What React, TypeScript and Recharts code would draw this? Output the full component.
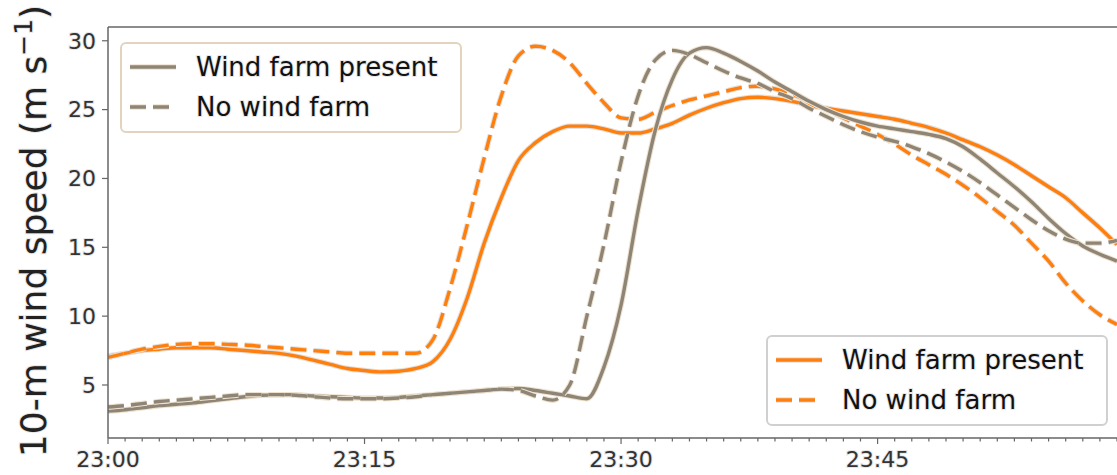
import React from 'react';
import { LineChart, Line, XAxis, YAxis, ReferenceLine } from 'recharts';

// minutes after 23:00
const minutes = [
  0, 1, 2, 3, 4, 5, 6, 7, 8, 9, 10, 11, 12, 13, 14, 15, 16, 17, 18, 19,
  20, 21, 22, 23, 24, 25, 26, 27, 28, 29, 30, 31, 32, 33, 34, 35, 36, 37, 38, 39,
  40, 41, 42, 43, 44, 45, 46, 47, 48, 49, 50, 51, 52, 53, 54, 55, 56, 57, 58, 59,
];

const orangePresent = [
  7.1, 7.3, 7.5, 7.6, 7.7, 7.7, 7.7, 7.6, 7.5, 7.4, 7.3, 7.1, 6.8, 6.5, 6.2, 6.05, 5.95, 6.0, 6.2, 6.7,
  8.3, 11.3, 15.3, 18.6, 21.3, 22.6, 23.4, 23.8, 23.8, 23.6, 23.3, 23.3, 23.6, 24.0, 24.6, 25.1, 25.5, 25.8, 25.9, 25.8,
  25.6, 25.3, 25.1, 24.9, 24.7, 24.5, 24.3, 24.0, 23.7, 23.3, 22.8, 22.3, 21.7, 21.0, 20.2, 19.4, 18.6, 17.5, 16.4, 15.2,
];

const orangeNoFarm = [
  7.0, 7.3, 7.6, 7.8, 7.95, 8.0, 8.0, 7.95, 7.9, 7.8, 7.7, 7.6, 7.5, 7.4, 7.3, 7.3, 7.3, 7.3, 7.3, 8.3,
  12.0, 16.6, 21.5, 26.0, 28.9, 29.6, 29.3, 28.4, 26.9, 25.5, 24.4, 24.3, 24.8, 25.3, 25.7, 26.0, 26.3, 26.6, 26.7, 26.5,
  26.1, 25.6, 25.0, 24.4, 23.8, 23.2, 22.5, 21.7, 21.0, 20.3, 19.5, 18.6, 17.6, 16.6, 15.3, 14.0, 12.4, 11.1, 10.1, 9.4,
];

const grayPresent = [
  3.1, 3.2, 3.35, 3.5, 3.6, 3.7, 3.85, 4.0, 4.15, 4.25, 4.3, 4.3, 4.2, 4.15, 4.1, 4.05, 4.05, 4.1, 4.2, 4.3,
  4.4, 4.5, 4.6, 4.7, 4.75, 4.6, 4.4, 4.2, 4.0, 6.3, 10.8, 17.7, 23.5, 27.2, 29.1, 29.5, 29.1, 28.5, 27.8, 27.0,
  26.3, 25.6, 25.0, 24.5, 24.1, 23.8, 23.6, 23.4, 23.2, 22.9, 22.3, 21.4, 20.4, 19.4, 18.3, 17.1, 16.0, 15.1, 14.5, 14.0,
];

const grayNoFarm = [
  3.4, 3.5, 3.65, 3.8, 3.9, 4.0, 4.1, 4.2, 4.3, 4.3, 4.3, 4.25, 4.15, 4.05, 4.0, 4.0, 4.0, 4.05, 4.15, 4.3,
  4.4, 4.5, 4.6, 4.7, 4.6, 4.2, 3.9, 5.0, 10.0, 15.2, 21.2, 26.0, 28.6, 29.3, 29.0, 28.4, 27.8, 27.3, 26.9, 26.3,
  25.8, 25.1, 24.5, 23.9, 23.4, 23.0, 22.7, 22.3, 21.8, 21.2, 20.5, 19.7, 18.8, 17.9, 17.0, 16.2, 15.6, 15.3, 15.3, 15.5,
];

const majorMinutes = [0, 15, 30, 45];
const timeLabels = ['23:00', '23:15', '23:30', '23:45'];
const speedTicks = [5, 10, 15, 20, 25, 30];
const legendLabels = ['Wind farm present', 'No wind farm'];

const ORANGE = '#ff7f0e';
const GRAY = '#8e8576';
const ORANGE_HALO = '#e4e0dc';
const GRAY_HALO = '#eee2cf';
const SPINE = '#666';
const FONT = '"DejaVu Sans", sans-serif';
const DASH = '16 7';

const data = minutes.map((t, i) => ({
  t,
  orangePresent: orangePresent[i],
  orangeNoFarm: orangeNoFarm[i],
  grayPresent: grayPresent[i],
  grayNoFarm: grayNoFarm[i],
}));

const textHalo = { stroke: '#e6e6e6', strokeWidth: 2, paintOrder: 'stroke' as const };

const TimeTick = (props: any) => {
  const { x, y, payload } = props;
  const idx = majorMinutes.indexOf(payload.value);
  const major = idx >= 0;
  return (
    <g>
      <line x1={x} x2={x} y1={y} y2={y + (major ? 6 : 3.5)} stroke={SPINE} strokeWidth={1.2} />
      {major && (
        <text x={x} y={y + 29} textAnchor="middle" fontSize={22} fontFamily={FONT} fill="#333" {...textHalo}>
          {timeLabels[idx]}
        </text>
      )}
    </g>
  );
};

const AxisTitle = () => (
  <text
    transform="translate(46,231) rotate(-90)"
    textAnchor="middle"
    fontSize={36}
    fontFamily={FONT}
    fill="#222"
    {...textHalo}
  >
    10-m wind speed (m s
    <tspan dy={-14} fontSize={25}>−1</tspan>
    <tspan dy={14}>)</tspan>
  </text>
);

const LegendBox = ({ x, y, color, halo, border }: { x: number; y: number; color: string; halo: string; border: string }) => (
  <g>
    <rect x={x} y={y} width={340} height={89} rx={5} fill="rgba(255,255,255,0.85)" stroke={border} strokeWidth={2} />
    {legendLabels.map((label, i) => (
      <g key={label}>
        <line
          x1={x + 9}
          x2={x + 55}
          y1={y + 24 + i * 40}
          y2={y + 24 + i * 40}
          stroke={halo}
          strokeWidth={5.5}
          strokeDasharray={i === 1 ? DASH : undefined}
        />
        <line
          x1={x + 9}
          x2={x + 55}
          y1={y + 24 + i * 40}
          y2={y + 24 + i * 40}
          stroke={color}
          strokeWidth={3.5}
          strokeDasharray={i === 1 ? DASH : undefined}
        />
        <text x={x + 75} y={y + 33 + i * 40} fontSize={26} fontFamily={FONT} fill="#111" {...textHalo}>
          {label}
        </text>
      </g>
    ))}
  </g>
);

const seriesLines = [
  { key: 'orangePresent', color: ORANGE, halo: ORANGE_HALO, dashed: false },
  { key: 'orangeNoFarm', color: ORANGE, halo: ORANGE_HALO, dashed: true },
  { key: 'grayPresent', color: GRAY, halo: GRAY_HALO, dashed: false },
  { key: 'grayNoFarm', color: GRAY, halo: GRAY_HALO, dashed: true },
];

export default function App() {
  return (
    <div style={{ position: 'relative', width: 1117, height: 475 }}>
      <style>{'body{margin:0}'}</style>
      <LineChart width={1117} height={475} data={data} margin={{ top: 27, right: 0, bottom: 0, left: 0 }}>
        <XAxis
          dataKey="t"
          type="number"
          domain={[0, 59]}
          ticks={minutes}
          interval={0}
          height={37}
          tickSize={0}
          tickMargin={0}
          tick={<TimeTick />}
          axisLine={{ stroke: SPINE, strokeWidth: 1.5 }}
          tickLine={false}
        />
        <YAxis
          type="number"
          domain={[1.15, 31]}
          ticks={speedTicks}
          width={108}
          tickSize={6}
          tickMargin={6}
          tick={{ fontSize: 22, fontFamily: FONT, fill: '#333', ...textHalo }}
          axisLine={{ stroke: SPINE, strokeWidth: 1.5 }}
          tickLine={{ stroke: SPINE, strokeWidth: 1.2 }}
          label={<AxisTitle />}
        />
        <ReferenceLine y={31} stroke={SPINE} strokeWidth={1.5} />
        {seriesLines.flatMap((s) => [
          <Line
            key={s.key + '-halo'}
            dataKey={s.key}
            type="monotone"
            stroke={s.halo}
            strokeWidth={5.5}
            strokeDasharray={s.dashed ? DASH : undefined}
            dot={false}
            activeDot={false}
            isAnimationActive={false}
          />,
          <Line
            key={s.key}
            dataKey={s.key}
            type="monotone"
            stroke={s.color}
            strokeWidth={3.4}
            strokeDasharray={s.dashed ? DASH : undefined}
            dot={false}
            isAnimationActive={false}
          />,
        ])}
      </LineChart>
      <svg width={1117} height={475} style={{ position: 'absolute', left: 0, top: 0, pointerEvents: 'none' }}>
        <LegendBox x={121} y={43} color={GRAY} halo={GRAY_HALO} border="#e2d3bd" />
        <LegendBox x={767} y={336} color={ORANGE} halo={ORANGE_HALO} border="#d0d0d0" />
      </svg>
    </div>
  );
}
